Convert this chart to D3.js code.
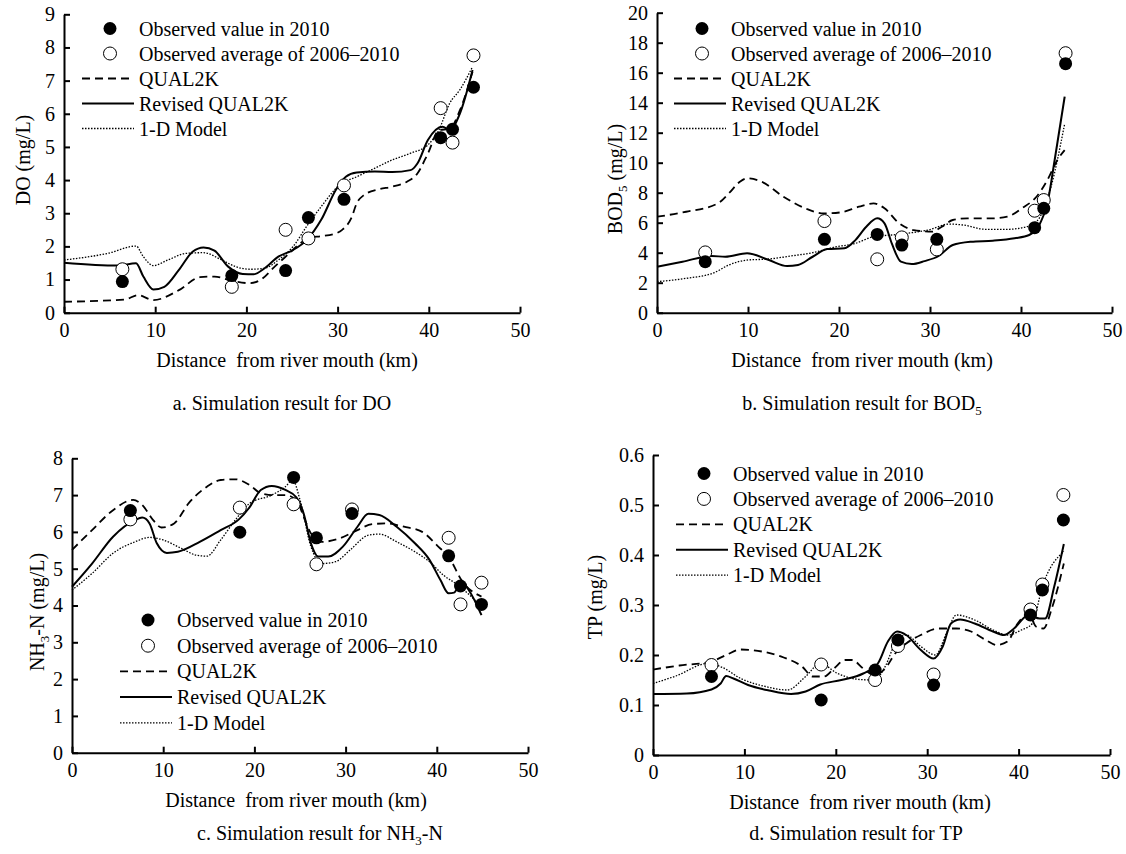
<!DOCTYPE html>
<html>
<head>
<meta charset="utf-8">
<script src="https://cdn.jsdelivr.net/npm/d3@7"></script>
<style>
  body { margin: 0; background: #fff; }
  text { font-family: "Liberation Serif", "Times New Roman", serif; fill: #000; }
</style>
</head>
<body>
<svg id="chart" width="1126" height="854"></svg>
<script>
// observation stations (km from river mouth)
const stationKm = [6.4, 18.4, 24.3, 26.8, 30.7, 41.3, 42.6, 44.9]
const bodStationKm = [5.3, 18.4, 24.2, 26.9, 30.75, 41.5, 42.5, 44.9]
const xTicks = [0, 10, 20, 30, 40, 50]
const legendLabels = ['Observed value in 2010', 'Observed average of 2006\u20132010', 'QUAL2K', 'Revised QUAL2K', '1-D Model']

// a. DO
const doObs2010 = [0.94, 1.12, 1.27, 2.87, 3.42, 5.28, 5.53, 6.8]
const doObsAvg = [1.31, 0.78, 2.5, 2.24, 3.84, 6.17, 5.13, 7.76]
const doQual2k = [[0,0.33],[6.7,0.4],[8.1,0.53],[9.8,0.38],[12.6,0.68],[14.9,1.07],[16.5,1.09],[18.4,0.96],[20.4,0.89],[21.6,1.0],[23.1,1.39],[24.7,1.79],[25.9,2.09],[27.0,2.27],[28.2,2.31],[29.8,2.39],[30.5,2.5],[31.5,2.85],[32.1,3.3],[32.9,3.55],[34.5,3.72],[36.0,3.8],[37.6,3.95],[38.75,4.2],[39.9,4.8],[41.1,5.5],[42.3,5.55],[43.4,6.1],[44.8,7.27]]
const doRevised = [[0,1.51],[5.9,1.42],[7.9,1.49],[8.7,1.09],[9.8,0.7],[11.0,0.78],[12.6,1.29],[14.1,1.84],[15.3,1.97],[16.5,1.87],[18.0,1.39],[19.6,1.17],[20.8,1.16],[22.0,1.34],[23.5,1.69],[25.1,1.89],[26.6,2.19],[28.2,2.8],[29.8,3.7],[30.9,4.1],[32.1,4.23],[34.1,4.26],[36.0,4.24],[38.0,4.3],[38.75,4.5],[39.9,5.21],[41.5,5.61],[42.3,5.51],[43.4,6.0],[44.8,7.32]]
const do1D = [[0,1.59],[4.8,1.79],[7.9,2.01],[8.7,1.69],[9.8,1.42],[11.4,1.59],[13.4,1.79],[15.3,1.81],[17.3,1.59],[18.8,1.39],[20.4,1.31],[22.0,1.34],[23.5,1.59],[25.1,1.99],[26.6,2.6],[28.2,3.2],[30.2,3.85],[32.1,4.1],[34.1,4.36],[36.0,4.61],[38.0,4.81],[39.9,5.06],[41.1,5.51],[42.3,6.32],[43.4,6.72],[44.8,7.42]]

// b. BOD5
const bodObs2010 = [3.4, 4.89, 5.22, 4.51, 4.89, 5.67, 6.96, 16.6]
const bodObsAvg = [4.02, 6.11, 3.56, 5.02, 4.22, 6.8, 7.51, 17.3]
const bodQual2k = [[0,6.4],[3.2,6.73],[6.7,7.29],[7.9,7.96],[9.1,8.73],[9.9,8.96],[11.5,8.73],[13.9,7.73],[16.3,6.96],[18.3,6.62],[20.2,6.69],[22.2,7.07],[23.8,7.29],[25.0,6.96],[26.6,5.96],[28.2,5.51],[30.2,5.4],[31.3,5.73],[32.5,6.18],[34.1,6.29],[36.9,6.29],[38.5,6.4],[40.1,6.96],[41.7,7.73],[42.9,8.84],[44.0,10.18],[44.8,10.84]]
const bodRevised = [[0,3.07],[2.8,3.4],[6.0,3.78],[7.5,3.73],[9.9,3.96],[12.3,3.51],[14.3,3.11],[15.5,3.18],[17.1,3.73],[18.7,4.24],[20.6,4.29],[21.8,4.84],[23.0,5.73],[24.2,6.29],[25.0,5.96],[25.8,4.62],[26.8,3.4],[28.0,3.24],[29.4,3.44],[30.95,3.78],[32.5,4.51],[34.5,4.73],[36.9,4.8],[39.3,4.96],[40.9,5.18],[42.1,5.96],[42.9,7.29],[43.7,10.18],[44.8,14.4]]
const bod1D = [[0,2.07],[3.2,2.29],[6.3,2.67],[7.9,3.18],[9.9,3.51],[12.3,3.58],[14.7,3.78],[17.1,4.0],[19.4,4.36],[21.8,4.62],[23.8,5.07],[25.8,5.18],[27.4,5.29],[29.8,5.51],[32.1,5.91],[33.7,5.84],[36.1,5.56],[38.5,5.56],[40.9,5.78],[42.1,6.4],[43.3,8.4],[44.8,12.6]]

// c. NH3-N
const nhObs2010 = [6.58, 5.99, 7.48, 5.84, 6.5, 5.35, 4.53, 4.03]
const nhObsAvg = [6.34, 6.66, 6.75, 5.12, 6.61, 5.84, 4.03, 4.62]
const nhQual2k = [[0,5.51],[2.2,6.05],[4.5,6.59],[6.7,6.87],[7.7,6.73],[8.9,6.32],[9.8,6.12],[11.2,6.23],[12.8,6.78],[14.8,7.23],[16.3,7.41],[17.9,7.43],[19.5,7.27],[20.7,7.05],[22.2,7.0],[23.4,7.0],[24.6,6.87],[25.4,6.41],[26.2,5.96],[27.4,5.73],[29.3,5.82],[31.3,6.05],[32.9,6.21],[34.4,6.23],[36.4,6.14],[38.4,6.0],[40.0,5.64],[41.5,5.24],[42.7,4.69],[44.9,4.24]]
const nhRevised = [[0,4.51],[2.2,5.14],[4.5,5.87],[6.9,6.32],[7.7,6.39],[8.5,6.23],[9.3,5.69],[10.4,5.43],[11.6,5.46],[14.0,5.73],[16.3,6.05],[18.3,6.34],[19.5,6.68],[20.7,7.14],[21.9,7.25],[23.4,7.14],[24.6,6.94],[25.4,6.5],[26.2,5.69],[27.0,5.33],[28.1,5.33],[29.7,5.6],[31.3,6.14],[32.5,6.49],[33.7,6.46],[35.6,6.14],[37.6,5.69],[39.2,5.24],[40.4,4.69],[41.3,4.33],[41.9,4.35],[42.7,4.65],[43.5,4.42],[44.9,3.74]]
const nh1D = [[0,4.42],[2.2,4.87],[4.5,5.42],[6.9,5.73],[8.5,5.85],[10.0,5.78],[12.0,5.55],[13.6,5.37],[14.8,5.34],[16.3,5.78],[17.9,6.32],[19.5,6.78],[21.9,7.0],[23.4,7.23],[24.2,7.41],[25.0,6.87],[26.2,5.6],[27.4,5.14],[28.9,5.19],[30.5,5.51],[32.5,5.91],[33.7,5.94],[35.6,5.73],[37.6,5.46],[39.2,5.19],[40.7,4.83],[42.3,4.56],[44.9,3.97]]

// d. TP
const tpObs2010 = [0.157, 0.11, 0.17, 0.23, 0.14, 0.28, 0.33, 0.47]
const tpObsAvg = [0.18, 0.181, 0.15, 0.218, 0.161, 0.291, 0.341, 0.52]
const tpQual2k = [[0,0.171],[2.9,0.179],[6.4,0.187],[8.0,0.2],[9.6,0.211],[11.9,0.207],[14.3,0.195],[16.3,0.177],[17.5,0.157],[18.7,0.157],[19.8,0.173],[21.0,0.19],[21.8,0.19],[23.0,0.173],[24.2,0.16],[25.4,0.173],[26.5,0.203],[27.7,0.223],[29.3,0.24],[31.3,0.253],[33.2,0.253],[34.8,0.247],[36.4,0.23],[37.6,0.22],[38.8,0.227],[39.9,0.263],[41.1,0.283],[41.9,0.257],[42.7,0.253],[43.7,0.297],[44.95,0.383]]
const tpRevised = [[0,0.122],[3.7,0.123],[6.4,0.131],[7.4,0.143],[8.0,0.158],[8.8,0.153],[10.4,0.14],[12.7,0.129],[15.1,0.122],[16.7,0.127],[18.3,0.141],[20.6,0.15],[23.0,0.163],[24.6,0.183],[25.7,0.227],[26.7,0.247],[27.7,0.24],[29.3,0.21],[30.7,0.193],[31.7,0.217],[32.6,0.263],[33.6,0.271],[35.2,0.263],[37.2,0.247],[38.4,0.24],[39.5,0.253],[41.1,0.28],[42.3,0.273],[42.9,0.273],[43.9,0.337],[44.95,0.422]]
const tp1D = [[0,0.143],[2.5,0.158],[6.0,0.183],[7.6,0.175],[9.6,0.153],[12.3,0.137],[14.7,0.13],[16.7,0.157],[18.3,0.183],[20.2,0.163],[22.6,0.151],[24.2,0.15],[25.4,0.177],[26.5,0.223],[27.7,0.24],[29.3,0.217],[30.9,0.2],[32.1,0.243],[33.2,0.28],[35.2,0.27],[37.2,0.25],[38.8,0.24],[40.3,0.25],[41.5,0.263],[42.6,0.337],[44.95,0.407]]

const FONT = '"Liberation Serif", "Times New Roman", serif'
const svg = d3.select('#chart')

// line styles: QUAL2K dashed, revised solid, 1-D dotted
const lineStyles = [
    {dash: '8,5', width: 1.8},
    {dash: null, width: 2},
    {dash: '1.5,1.5', width: 1.3}
]

// writes text with optional subscript parts
function richText(sel, parts) {
    let shift = 0
    parts.forEach(p => {
        const ts = sel.append('tspan').text(p.t)
        if (p.sub) {
            ts.attr('font-size', 13).attr('dy', 5)
            shift = -5
        } else if (shift) {
            ts.attr('dy', shift)
            shift = 0
        }
    })
}

function drawPanel(p) {
    const g = svg.append('g')

    const x = d3.scaleLinear().domain([0, 50]).range([p.left, p.right])
    const y = d3.scaleLinear().domain([0, p.yMax]).range([p.bottom, p.top])

    // axes, ticks pointing inward
    const xAxis = g.append('g')
        .attr('transform', `translate(0,${p.bottom})`)
        .call(d3.axisBottom(x).tickValues(xTicks).tickSizeInner(-6).tickSizeOuter(0).tickPadding(10))
    const yAxis = g.append('g')
        .attr('transform', `translate(${p.left},0)`)
        .call(d3.axisLeft(y).tickValues(p.yTicks).tickSizeInner(-6).tickSizeOuter(0).tickPadding(9).tickFormat(p.fmt))

    ;[xAxis, yAxis].forEach(a => {
        a.attr('font-family', FONT).attr('font-size', 20)
        a.select('.domain').attr('stroke-width', 2)
        a.selectAll('.tick line').attr('stroke-width', 2)
        a.selectAll('.tick text').attr('fill', '#000')
    })

    // axis titles and caption
    g.append('text')
        .attr('x', p.xTitleX).attr('y', p.bottom + 54)
        .attr('text-anchor', 'middle').attr('font-size', 20)
        .style('white-space', 'pre')
        .text('Distance  from river mouth (km)')

    const yt = g.append('text')
        .attr('transform', `translate(${p.yTitle[0]},${p.yTitle[1]}) rotate(-90)`)
        .attr('text-anchor', 'middle').attr('dy', '0.35em').attr('font-size', 20)
    richText(yt, p.yLabel)

    const cap = g.append('text')
        .attr('x', p.capX).attr('y', p.bottom + p.capGap)
        .attr('text-anchor', 'middle').attr('font-size', 20)
    richText(cap, p.caption)

    // model lines
    const line = d3.line().x(d => x(d[0])).y(d => y(d[1])).curve(d3.curveMonotoneX)
    p.models.forEach((m, i) => {
        g.append('path')
            .datum(m)
            .attr('d', line)
            .attr('fill', 'none')
            .attr('stroke', '#000')
            .attr('stroke-width', lineStyles[i].width)
            .attr('stroke-dasharray', lineStyles[i].dash)
    })

    // observations
    g.append('g').selectAll('circle')
        .data(p.obsAvg.map((v, i) => [p.km[i], v]))
        .join('circle')
        .attr('cx', d => x(d[0])).attr('cy', d => y(d[1])).attr('r', 6.5)
        .attr('fill', '#fff').attr('stroke', '#000').attr('stroke-width', 1)
    g.append('g').selectAll('circle')
        .data(p.obs2010.map((v, i) => [p.km[i], v]))
        .join('circle')
        .attr('cx', d => x(d[0])).attr('cy', d => y(d[1])).attr('r', 6.5)
        .attr('fill', '#000')

    // legend
    const lg = g.append('g').attr('transform', `translate(${p.legend[0]},${p.legend[1]})`)
    legendLabels.forEach((label, i) => {
        const yy = i * p.legendStep
        if (i === 0) {
            lg.append('circle').attr('cx', 28).attr('cy', yy).attr('r', 6.5).attr('fill', '#000')
        } else if (i === 1) {
            lg.append('circle').attr('cx', 28).attr('cy', yy).attr('r', 6.5)
                .attr('fill', '#fff').attr('stroke', '#000').attr('stroke-width', 1)
        } else {
            const s = lineStyles[i - 2]
            lg.append('line').attr('x1', 0).attr('x2', 52).attr('y1', yy).attr('y2', yy)
                .attr('stroke', '#000').attr('stroke-width', s.width).attr('stroke-dasharray', s.dash)
        }
        lg.append('text').attr('x', 57).attr('y', yy).attr('dy', '0.35em')
            .attr('font-size', 20).text(label)
    })
}

const panels = [
    {
        left: 64, right: 520, top: 14.3, bottom: 312.7, yMax: 9, yTicks: d3.range(0, 10, 1), fmt: d3.format('d'),
        yLabel: [{t: 'DO (mg/L)'}], yTitle: [23, 160],
        caption: [{t: 'a. Simulation result for DO'}], capX: 282, capGap: 97, xTitleX: 287,
        km: stationKm, obs2010: doObs2010, obsAvg: doObsAvg, models: [doQual2k, doRevised, do1D],
        legend: [82, 28.5], legendStep: 25
    },
    {
        left: 657, right: 1112, top: 12.7, bottom: 312.7, yMax: 20, yTicks: d3.range(0, 21, 2), fmt: d3.format('d'),
        yLabel: [{t: 'BOD'}, {t: '5', sub: true}, {t: ' (mg/L)'}], yTitle: [615, 179],
        caption: [{t: 'b. Simulation result for BOD'}, {t: '5', sub: true}], capX: 862, capGap: 97, xTitleX: 862,
        km: bodStationKm, obs2010: bodObs2010, obsAvg: bodObsAvg, models: [bodQual2k, bodRevised, bod1D],
        legend: [674, 28.5], legendStep: 25
    },
    {
        left: 72, right: 528, top: 458.3, bottom: 752.7, yMax: 8, yTicks: d3.range(0, 9, 1), fmt: d3.format('d'),
        yLabel: [{t: 'NH'}, {t: '3', sub: true}, {t: '-N (mg/L)'}], yTitle: [37, 612],
        caption: [{t: 'c. Simulation result for NH'}, {t: '3', sub: true}, {t: '-N'}], capX: 320, capGap: 87, xTitleX: 296,
        km: stationKm, obs2010: nhObs2010, obsAvg: nhObsAvg, models: [nhQual2k, nhRevised, nh1D],
        legend: [120, 620], legendStep: 25.7
    },
    {
        left: 653, right: 1110, top: 455, bottom: 755, yMax: 0.6, yTicks: d3.range(0, 7, 1).map(d => d / 10),
        fmt: d => d === 0 ? '0' : d3.format('.1f')(d),
        yLabel: [{t: 'TP (mg/L)'}], yTitle: [595, 597],
        caption: [{t: 'd. Simulation result for TP'}], capX: 856, capGap: 85, xTitleX: 860,
        km: stationKm, obs2010: tpObs2010, obsAvg: tpObsAvg, models: [tpQual2k, tpRevised, tp1D],
        legend: [676, 473.5], legendStep: 25.4
    }
]

panels.forEach(drawPanel)
</script>
</body>
</html>
